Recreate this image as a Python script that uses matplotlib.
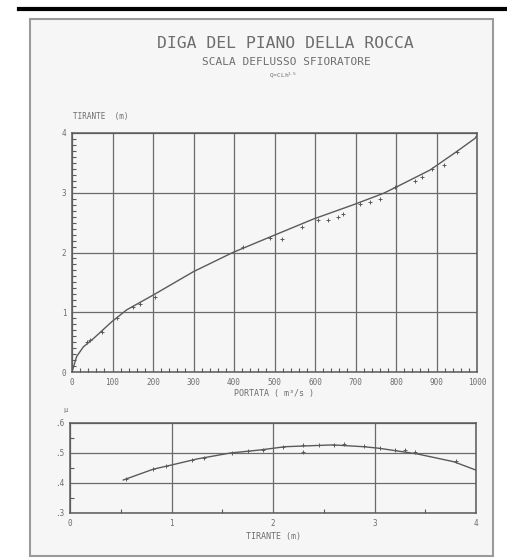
import matplotlib
matplotlib.use("Agg")
import matplotlib.pyplot as plt
from matplotlib.patches import Rectangle
from matplotlib.lines import Line2D
from matplotlib.ticker import MultipleLocator, FuncFormatter

# scala di deflusso: portata (m3/s) contro tirante (m)
portata = [0, 11.5, 28, 53, 98, 135, 201, 300, 397, 489, 596, 695, 769, 802, 884, 950, 995, 1000]
tirante = [0, 0.26, 0.42, 0.56, 0.84, 1.04, 1.29, 1.68, 2.0, 2.26, 2.56, 2.80, 2.99, 3.10, 3.38, 3.69, 3.91, 3.96]

# misure
q_mis = [36, 45, 74, 110, 151, 168, 205, 423, 489, 518, 567, 608, 633, 657, 670, 711, 736, 761, 798, 848, 864, 889, 918, 951]
h_mis = [0.51, 0.53, 0.67, 0.90, 1.09, 1.13, 1.26, 2.10, 2.24, 2.22, 2.43, 2.54, 2.55, 2.60, 2.64, 2.82, 2.85, 2.89, 3.10, 3.20, 3.26, 3.39, 3.47, 3.69]

# coefficiente di efflusso contro tirante
h_coef = [0.525, 0.82, 1.0, 1.25, 1.58, 1.87, 2.12, 2.59, 2.89, 3.04, 3.22, 3.42, 3.78, 4.0]
coef = [0.41, 0.446, 0.46, 0.48, 0.50, 0.51, 0.521, 0.527, 0.521, 0.516, 0.507, 0.497, 0.471, 0.443]
h_coef_mis = [0.55, 0.82, 0.95, 1.2, 1.32, 1.6, 1.75, 1.9, 2.1, 2.3, 2.3, 2.45, 2.6, 2.7, 2.9, 3.05, 3.2, 3.3, 3.4, 3.8]
coef_mis = [0.415, 0.447, 0.456, 0.476, 0.483, 0.50, 0.506, 0.511, 0.521, 0.526, 0.505, 0.527, 0.528, 0.529, 0.523, 0.518, 0.510, 0.509, 0.502, 0.473]

ink = "#5a5a5a"
testo = "#6e6e6e"
font = "DejaVu Sans Mono"

fig = plt.figure(figsize=(5.07, 5.6), dpi=100)
fig.patch.set_facecolor("white")

# cornice della tavola
fig.patches.append(Rectangle((30 / 507, 1 - 556 / 560), 463 / 507, 537 / 560,
                             transform=fig.transFigure, facecolor="#f6f6f6",
                             edgecolor="#9a9a9a", lw=1.5, zorder=-10))
fig.lines.append(Line2D([19 / 507, 1], [1 - 9 / 560, 1 - 9 / 560],
                        transform=fig.transFigure, color="black", lw=3, zorder=-5))

fig.text(0.562, 1 - 43 / 560, "DIGA DEL PIANO DELLA ROCCA", ha="center", va="center",
         fontsize=11.8, color=testo, family=font)
fig.text(0.564, 1 - 62 / 560, "SCALA DEFLUSSO SFIORATORE", ha="center", va="center",
         fontsize=8, color=testo, family=font)
fig.text(0.558, 1 - 75 / 560, r"Q=CLh$^{1.5}$", ha="center", va="center",
         fontsize=4.5, color=testo, family=font)


def stile(ax):
    ax.set_facecolor("none")
    for s in ax.spines.values():
        s.set_color(ink)
        s.set_linewidth(1.1)
    ax.grid(True, which="major", color="#6a6a6a", lw=0.9)
    ax.tick_params(which="both", direction="in", colors=ink, labelcolor=testo,
                   labelsize=5.5, top=False, right=False)
    ax.tick_params(which="major", length=0, pad=4)
    ax.tick_params(which="minor", length=3, width=0.8)
    for lab in ax.get_xticklabels() + ax.get_yticklabels():
        lab.set_family(font)


# grafico principale
ax = fig.add_axes([72 / 507, 1 - 372 / 560, 405 / 507, 239 / 560])
ax.plot(portata, tirante, color=ink, lw=1.0)
ax.plot(q_mis, h_mis, ls="none", marker="+", ms=3, mew=0.7, color=ink)
ax.set_xlim(0, 1000)
ax.set_ylim(0, 4)
ax.xaxis.set_major_locator(MultipleLocator(100))
ax.xaxis.set_minor_locator(MultipleLocator(20))
ax.yaxis.set_major_locator(MultipleLocator(1))
ax.yaxis.set_minor_locator(MultipleLocator(0.1))
stile(ax)
ax.set_xlabel("PORTATA ( m³/s )", fontsize=6, color=testo, family=font, labelpad=2)
fig.text(73 / 507, 1 - 117 / 560, "TIRANTE  (m)", ha="left", va="center",
         fontsize=5.5, color=testo, family=font)

# coefficiente
ax2 = fig.add_axes([70 / 507, 1 - 513 / 560, 406 / 507, 90 / 560])
ax2.plot(h_coef, coef, color=ink, lw=1.0)
ax2.plot(h_coef_mis, coef_mis, ls="none", marker="+", ms=3, mew=0.7, color=ink)
ax2.set_xlim(0, 4)
ax2.set_ylim(0.3, 0.6)
ax2.xaxis.set_major_locator(MultipleLocator(1))
ax2.xaxis.set_minor_locator(MultipleLocator(0.5))
ax2.yaxis.set_major_locator(MultipleLocator(0.1))
ax2.yaxis.set_minor_locator(MultipleLocator(0.05))
ax2.yaxis.set_major_formatter(FuncFormatter(lambda v, p: ("%.1f" % v)[1:]))
stile(ax2)
ax2.set_xlabel("TIRANTE (m)", fontsize=6, color=testo, family=font, labelpad=3)
fig.text(65 / 507, 1 - 410 / 560, "μ", ha="center", va="center",
         fontsize=5, color=testo, family=font)

fig.savefig("out.png", dpi=100, facecolor=fig.get_facecolor())
